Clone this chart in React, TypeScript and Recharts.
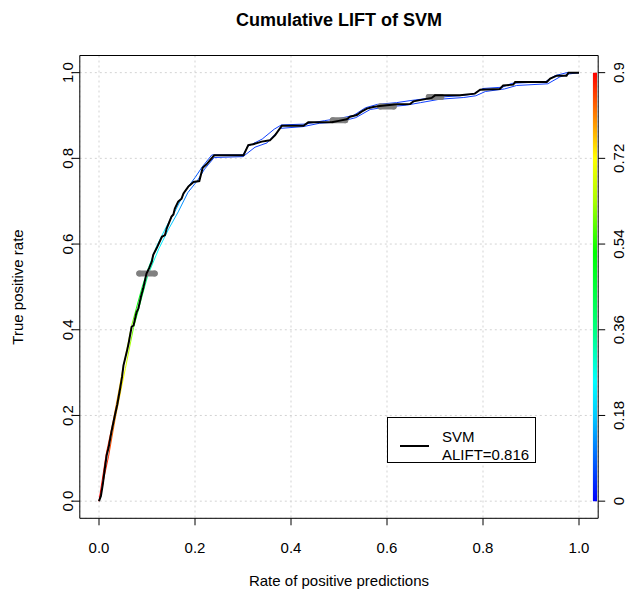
import { ComposedChart, Line, Scatter, ErrorBar, XAxis, YAxis, CartesianGrid, ReferenceArea } from 'recharts';

// averaged curve (black)
const rppMean = [0, 0.004, 0.008, 0.012, 0.016, 0.02, 0.026, 0.033, 0.038, 0.044, 0.048, 0.051, 0.058, 0.062, 0.068, 0.072, 0.078, 0.082, 0.088, 0.092, 0.099, 0.105, 0.11, 0.113, 0.12, 0.131, 0.1375, 0.141, 0.151, 0.155, 0.158, 0.165, 0.172, 0.176, 0.186, 0.197, 0.209, 0.216, 0.224, 0.24, 0.301, 0.311, 0.321, 0.339, 0.356, 0.367, 0.381, 0.426, 0.436, 0.485, 0.502, 0.516, 0.523, 0.537, 0.547, 0.558, 0.571, 0.585, 0.62, 0.648, 0.655, 0.693, 0.7, 0.752, 0.783, 0.794, 0.835, 0.842, 0.863, 0.867, 0.933, 0.94, 0.954, 0.974, 0.978, 1];
const tprMean = [0, 0.012, 0.04, 0.075, 0.107, 0.125, 0.162, 0.2, 0.225, 0.263, 0.29, 0.317, 0.349, 0.37, 0.407, 0.41, 0.44, 0.45, 0.48, 0.496, 0.531, 0.545, 0.559, 0.575, 0.59, 0.617, 0.621, 0.636, 0.664, 0.669, 0.683, 0.699, 0.706, 0.718, 0.734, 0.745, 0.747, 0.778, 0.786, 0.807, 0.807, 0.831, 0.833, 0.839, 0.842, 0.854, 0.876, 0.876, 0.884, 0.884, 0.888, 0.891, 0.897, 0.901, 0.909, 0.916, 0.92, 0.922, 0.926, 0.927, 0.933, 0.941, 0.947, 0.947, 0.951, 0.96, 0.962, 0.97, 0.972, 0.978, 0.978, 0.986, 0.993, 0.993, 1, 1];

// individual runs (coloured by cutoff)
const rppRunA = [0, 0.015, 0.03, 0.05, 0.068, 0.09, 0.1, 0.12, 0.14, 0.16, 0.18, 0.2, 0.215, 0.235, 0.3, 0.31, 0.34, 0.365, 0.38, 0.43, 0.47, 0.5, 0.53, 0.555, 0.58, 0.62, 0.65, 0.7, 0.75, 0.78, 0.8, 0.84, 0.86, 0.93, 0.95, 0.975, 1];
const tprRunA = [0, 0.11, 0.19, 0.31, 0.41, 0.5, 0.535, 0.595, 0.64, 0.68, 0.725, 0.755, 0.78, 0.808, 0.808, 0.828, 0.845, 0.868, 0.878, 0.88, 0.888, 0.893, 0.9, 0.918, 0.926, 0.93, 0.935, 0.942, 0.946, 0.95, 0.963, 0.966, 0.975, 0.979, 0.993, 1, 1];
const rppRunB = [0, 0.02, 0.035, 0.055, 0.072, 0.095, 0.102, 0.125, 0.145, 0.165, 0.185, 0.205, 0.22, 0.24, 0.3, 0.325, 0.35, 0.378, 0.425, 0.46, 0.5, 0.535, 0.565, 0.6, 0.64, 0.67, 0.71, 0.76, 0.785, 0.805, 0.845, 0.87, 0.935, 0.96, 0.98, 1];
const tprRunB = [0, 0.105, 0.2, 0.31, 0.405, 0.5, 0.528, 0.59, 0.635, 0.675, 0.72, 0.748, 0.775, 0.802, 0.804, 0.826, 0.836, 0.87, 0.874, 0.882, 0.885, 0.895, 0.914, 0.92, 0.924, 0.93, 0.938, 0.942, 0.946, 0.956, 0.962, 0.97, 0.974, 0.99, 0.997, 1];

// spread bars
const spreadRpp = [0.1, 0.5, 0.6, 0.7];
const spreadTpr = [0.531, 0.889, 0.921, 0.943];
const spreadSd = [0.016, 0.013, 0.014, 0.013];

const axisTicks = [0, 0.2, 0.4, 0.6, 0.8, 1];
const cutoffTicks = [0, 0.18, 0.36, 0.54, 0.72, 0.9];

const pts = (xs: number[], ys: number[]) => xs.map((x, i) => ({ rpp: x, tpr: ys[i] }));
const meanData = pts(rppMean, tprMean);
const runAData = pts(rppRunA, tprRunA);
const runBData = pts(rppRunB, tprRunB);
const spreadData = spreadRpp.map((x, i) => ({ rpp: x, tpr: spreadTpr[i], sd: spreadSd[i] }));

const FONT = '"Liberation Sans", Arial, Helvetica, sans-serif';

const BottomTick = (p: any) => (
  <text x={p.x} y={p.y + 28} textAnchor="middle" fontSize={15} fontFamily={FONT} fill="#000">
    {p.payload.value.toFixed(1)}
  </text>
);

const LeftTick = (p: any) => (
  <text x={p.x} y={p.y} transform={`rotate(-90 ${p.x} ${p.y})`} textAnchor="middle" fontSize={15} fontFamily={FONT} fill="#000">
    {p.payload.value.toFixed(1)}
  </text>
);

const RightTick = (p: any) => {
  const x = p.x + 19;
  return (
    <text x={x} y={p.y} transform={`rotate(-90 ${x} ${p.y})`} textAnchor="middle" fontSize={15} fontFamily={FONT} fill="#000">
      {p.payload.value === 0 ? '0' : String(p.payload.value)}
    </text>
  );
};

const NoShape = () => <g />;

export default function App() {
  return (
    <div style={{ position: 'absolute', left: 0, top: 0, width: 633, height: 593, background: '#fff', fontFamily: FONT }}>
      <ComposedChart width={633} height={593} margin={{ top: 55.5, right: 4.8, bottom: 44.7, left: 49.8 }}>
        <defs>
          <linearGradient id="cut" x1="0" y1="0" x2="1" y2="0">
            <stop offset="0" stopColor="#ff0000" />
            <stop offset="0.02" stopColor="#ff3000" />
            <stop offset="0.035" stopColor="#ff9000" />
            <stop offset="0.05" stopColor="#ffff00" />
            <stop offset="0.065" stopColor="#aaff00" />
            <stop offset="0.08" stopColor="#00ff00" />
            <stop offset="0.1" stopColor="#00ff80" />
            <stop offset="0.12" stopColor="#00ffff" />
            <stop offset="0.15" stopColor="#00ccff" />
            <stop offset="0.19" stopColor="#0066ff" />
            <stop offset="0.24" stopColor="#1040ff" />
            <stop offset="1" stopColor="#1040ff" />
          </linearGradient>
          <linearGradient id="cbar" x1="0" y1="1" x2="0" y2="0">
            <stop offset="0" stopColor="#0000ff" />
            <stop offset="0.1" stopColor="#0066ff" />
            <stop offset="0.2" stopColor="#00ccff" />
            <stop offset="0.28" stopColor="#00ffff" />
            <stop offset="0.4" stopColor="#00ff80" />
            <stop offset="0.58" stopColor="#00ff00" />
            <stop offset="0.7" stopColor="#aaff00" />
            <stop offset="0.8" stopColor="#ffff00" />
            <stop offset="0.9" stopColor="#ff8000" />
            <stop offset="1" stopColor="#ff0000" />
          </linearGradient>
        </defs>
        <CartesianGrid stroke="#d3d3d3" strokeDasharray="2 3" />
        <XAxis
          dataKey="rpp"
          type="number"
          domain={[-0.04, 1.04]}
          ticks={axisTicks}
          allowDataOverflow
          height={30}
          axisLine={false}
          tickLine={{ stroke: '#000' }}
          tickSize={7}
          tickMargin={0}
          tick={<BottomTick />}
          interval={0}
        />
        <YAxis
          type="number"
          domain={[-0.04, 1.04]}
          ticks={axisTicks}
          allowDataOverflow
          width={30}
          axisLine={false}
          tickLine={{ stroke: '#000' }}
          tickSize={7}
          tickMargin={0}
          tick={<LeftTick />}
          interval={0}
        />
        <YAxis
          yAxisId="cb"
          orientation="right"
          type="number"
          domain={[-0.036, 0.936]}
          ticks={cutoffTicks}
          allowDataOverflow
          width={30}
          axisLine={false}
          tickLine={{ stroke: '#000' }}
          tickSize={7}
          tickMargin={0}
          tick={<RightTick />}
          interval={0}
        />
        <ReferenceArea x1={1.029} x2={1.0375} y1={0} y2={1} fill="url(#cbar)" fillOpacity={1} stroke="none" ifOverflow="visible" />
        <Line data={runAData} dataKey="tpr" type="linear" stroke="url(#cut)" strokeWidth={1} dot={false} activeDot={false} isAnimationActive={false} />
        <Line data={runBData} dataKey="tpr" type="linear" stroke="url(#cut)" strokeWidth={1} dot={false} activeDot={false} isAnimationActive={false} />
        <Scatter data={spreadData} dataKey="tpr" shape={<NoShape />} isAnimationActive={false}>
          <ErrorBar dataKey="sd" direction="x" width={0} stroke="#808080" strokeWidth={6} strokeLinecap="round" />
        </Scatter>
        <Line data={meanData} dataKey="tpr" type="linear" stroke="#000" strokeWidth={2} dot={false} activeDot={false} isAnimationActive={false} zIndex={700} />
        <ReferenceArea x1={-0.04} x2={1.04} y1={-0.04} y2={1.04} fill="none" fillOpacity={0} stroke="#000" strokeWidth={1} ifOverflow="visible" />
      </ComposedChart>

      <div style={{ position: 'absolute', left: 139, top: 10, width: 400, textAlign: 'center', fontSize: 18, lineHeight: '20px', fontWeight: 'bold' }}>
        Cumulative LIFT of SVM
      </div>
      <div style={{ position: 'absolute', left: 139, top: 572, width: 400, textAlign: 'center', fontSize: 15, lineHeight: '18px' }}>
        Rate of positive predictions
      </div>
      <div style={{ position: 'absolute', left: 18, top: 287, transform: 'translate(-50%, -50%) rotate(-90deg)', whiteSpace: 'nowrap', fontSize: 15, lineHeight: '18px' }}>
        True positive rate
      </div>

      <div style={{ position: 'absolute', left: 387, top: 417, width: 149, height: 46, boxSizing: 'border-box', border: '1px solid #000', background: '#fff' }}>
        <div style={{ position: 'absolute', left: 12, top: 27, width: 29, height: 2, background: '#000' }} />
        <div style={{ position: 'absolute', left: 54, top: 10, fontSize: 15, lineHeight: '18px' }}>SVM</div>
        <div style={{ position: 'absolute', left: 54, top: 28, fontSize: 15, lineHeight: '18px' }}>ALIFT=0.816</div>
      </div>
    </div>
  );
}
